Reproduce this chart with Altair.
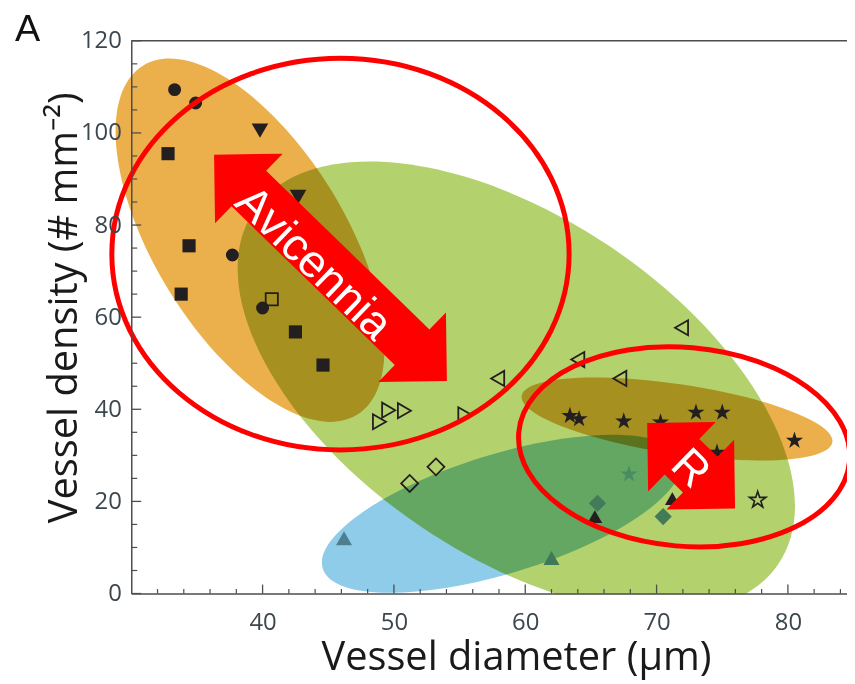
import altair as alt
import pandas as pd

# ---------------- data ----------------
CIRCLE_X = [33.3, 34.9, 37.7, 40.0]
CIRCLE_Y = [109.4, 106.5, 73.5, 62.0]
SQUARE_X = [32.8, 34.4, 33.8, 42.5, 44.6]
SQUARE_Y = [95.5, 75.5, 65.0, 56.8, 49.6]
OPEN_SQUARE_X = [40.7]
OPEN_SQUARE_Y = [63.9]
TRI_DOWN_X = [39.8, 42.7]
TRI_DOWN_Y = [100.5, 86.1]
TRI_LEFT_X = [71.9, 64.0, 67.2, 57.9]
TRI_LEFT_Y = [57.7, 50.8, 46.7, 46.7]
TRI_RIGHT_X = [48.9, 49.6, 50.8, 55.4]
TRI_RIGHT_Y = [37.3, 39.8, 39.7, 38.8]
OPEN_DIAMOND_X = [51.2, 53.2]
OPEN_DIAMOND_Y = [23.9, 27.5]
STAR_X = [63.4, 64.1, 67.5, 70.3, 73.0, 75.0, 80.5, 74.6]
STAR_Y = [38.6, 37.9, 37.4, 37.2, 39.3, 39.3, 33.2, 30.6]
OPEN_STAR_X = [77.7]
OPEN_STAR_Y = [20.3]
TRI_UP_X = [65.3, 71.2]
TRI_UP_Y = [16.7, 20.6]
GREEN_STAR_X = [67.9]
GREEN_STAR_Y = [25.9]
GREEN_DIAMOND_X = [65.5, 70.5]
GREEN_DIAMOND_Y = [19.6, 16.7]
GREEN_TRI_X = [62.0]
GREEN_TRI_Y = [7.7]
SLATE_TRI_X = [46.2]
SLATE_TRI_Y = [12.0]

# shaded group regions (centres in data units)
REGION_NAMES = ["Avicennia", "green group", "blue group", "R group"]
REGION_CX = [39.04, 59.32, 58.19, 71.56]
REGION_CY = [76.7, 44.8, 17.3, 37.9]
# red outline ellipses (centres in data units)
RING_CX = [45.93, 72.1]
RING_CY = [73.7, 31.85]
# arrows and their labels
ARROW_LABELS = ["Avicennia", "R"]
ARROW_CX = [45.17, 72.63]
ARROW_CY = [70.7, 27.75]
LABEL_CX = [43.87, 72.57]
LABEL_CY = [71.68, 27.1]

X_MAJOR = [40, 50, 60, 70, 80]
X_MINOR = [32, 34, 36, 38, 42, 44, 46, 48, 52, 54, 56, 58, 62, 64, 66, 68,
           72, 74, 76, 78, 82, 84]
Y_MAJOR = [0, 20, 40, 60, 80, 100, 120]
Y_MINOR = [5, 10, 15, 25, 30, 35, 45, 50, 55, 65, 70, 75, 85, 90, 95, 105,
           110, 115]

# ---------------- chart ----------------
W, H = 720, 556
xs = alt.Scale(domain=[30, 84.5], nice=False, zero=False)
ys = alt.Scale(domain=[0, 120], nice=False, zero=False)
AX = "#4d4d4d"
LBL = "#3c474d"
INK = "#231f20"
FONT = "Open Sans"

XAXIS = alt.Axis(values=X_MAJOR, ticks=False, grid=False, zindex=1,
                 domainColor=AX, domainWidth=1.5,
                 labelFont=FONT, labelFontSize=24,
                 labelColor=LBL, labelPadding=17,
                 title="Vessel diameter (µm)", titleFont=FONT,
                 titleFontSize=40, titleFontWeight="normal",
                 titleColor="#1a1a1a", titleX=387, titleY=76,
                 titleBaseline="alphabetic", titleAlign="center")
YAXIS = alt.Axis(values=Y_MAJOR, ticks=False, grid=False, zindex=1,
                 domainColor=AX, domainWidth=1.5,
                 labelFont=FONT, labelFontSize=24,
                 labelColor=LBL, labelPadding=10,
                 title="Vessel density (# mm⁻²)",
                 titleFont=FONT, titleFontSize=40,
                 titleFontWeight="normal", titleColor="#1a1a1a",
                 titleAngle=270, titleX=-55, titleY=268,
                 titleBaseline="alphabetic", titleAlign="center")


def X():
    return alt.X("x:Q", scale=xs, axis=XAXIS)


def Y():
    return alt.Y("y:Q", scale=ys, axis=YAXIS)


STAR = ("M 0 -1 L 0.2245 -0.309 L 0.9511 -0.309 L 0.3633 0.118 "
        "L 0.5878 0.809 L 0 0.382 L -0.5878 0.809 L -0.3633 0.118 "
        "L -0.9511 -0.309 L -0.2245 -0.309 Z")


def ellipse_path(ratio):
    k = 0.5523
    r = ratio
    return (f"M 1 0 C 1 {k*r:.4f} {k:.4f} {r:.4f} 0 {r:.4f} "
            f"C {-k:.4f} {r:.4f} -1 {k*r:.4f} -1 0 "
            f"C -1 {-k*r:.4f} {-k:.4f} {-r:.4f} 0 {-r:.4f} "
            f"C {k:.4f} {-r:.4f} 1 {-k*r:.4f} 1 0 Z")


def arrow_path(head, shaft):
    b = 1 - head
    return (f"M -1 0 L {-b:.4f} {-head:.4f} L {-b:.4f} {-shaft:.4f} "
            f"L {b:.4f} {-shaft:.4f} L {b:.4f} {-head:.4f} L 1 0 "
            f"L {b:.4f} {head:.4f} L {b:.4f} {shaft:.4f} "
            f"L {-b:.4f} {shaft:.4f} L {-b:.4f} {head:.4f} Z")


layers = []

# shaded regions (multiplied so that overlaps darken)
region_style = [  # semi-major px, semi-minor px, angle, colour
    (206, 96, 58.5, "#EBB04B"),
    (318, 170, 34, "#B3D16C"),
    (188, 60, 343, "#8FCCE9"),
    (158, 35, 8.5, "#EBB04B"),
]
for i, (a, b, ang, col) in enumerate(region_style):
    d = pd.DataFrame({"x": [REGION_CX[i]], "y": [REGION_CY[i]],
                      "name": [REGION_NAMES[i]]})
    layers.append(
        alt.Chart(d).mark_point(shape=ellipse_path(b / a), size=(2 * a) ** 2,
                                angle=ang, filled=True, fill=col, opacity=1,
                                strokeWidth=0, blend="multiply")
        .encode(x=X(), y=Y()))

# white band below the x axis: the shaded regions stop at the axis
dmask = pd.DataFrame({"m": [0]})
layers.append(
    alt.Chart(dmask).mark_rect(color="white", opacity=1).encode(
        x=alt.value(-2), x2=alt.value(W + 2),
        y=alt.value(H + 0.8), y2=alt.value(H + 70)))

# inward tick marks and top frame line
dxm = pd.DataFrame({"x": X_MAJOR})
layers.append(
    alt.Chart(dxm).mark_rule(color=AX, strokeWidth=1.3).encode(
        x=X(), y=alt.value(H), y2=alt.value(H - 9)))
dxn = pd.DataFrame({"x": X_MINOR})
layers.append(
    alt.Chart(dxn).mark_rule(color=AX, strokeWidth=1.2).encode(
        x=X(), y=alt.value(H), y2=alt.value(H - 4.5)))
dym = pd.DataFrame({"y": Y_MAJOR})
layers.append(
    alt.Chart(dym).mark_rule(color=AX, strokeWidth=1.3).encode(
        y=Y(), x=alt.value(0), x2=alt.value(10)))
dyn = pd.DataFrame({"y": Y_MINOR})
layers.append(
    alt.Chart(dyn).mark_rule(color=AX, strokeWidth=1.2).encode(
        y=Y(), x=alt.value(0), x2=alt.value(6)))
dtop = pd.DataFrame({"y": [120]})
layers.append(
    alt.Chart(dtop).mark_rule(color=AX, strokeWidth=1.5).encode(
        y=Y(), x=alt.value(0), x2=alt.value(W)))

# data points
groups = [  # xs, ys, shape, filled, colour, size, strokeWidth
    (CIRCLE_X, CIRCLE_Y, "circle", True, INK, 170, 0),
    (SQUARE_X, SQUARE_Y, "square", True, INK, 175, 0),
    (OPEN_SQUARE_X, OPEN_SQUARE_Y, "square", False, INK, 150, 1.8),
    (TRI_DOWN_X, TRI_DOWN_Y, "triangle-down", True, INK, 280, 0),
    (TRI_LEFT_X, TRI_LEFT_Y, "triangle-left", False, INK, 230, 1.8),
    (TRI_RIGHT_X, TRI_RIGHT_Y, "triangle-right", False, INK, 230, 1.8),
    (OPEN_DIAMOND_X, OPEN_DIAMOND_Y, "diamond", False, INK, 290, 1.8),
    (STAR_X, STAR_Y, STAR, True, INK, 330, 0),
    (OPEN_STAR_X, OPEN_STAR_Y, STAR, False, INK, 300, 1.6),
    (TRI_UP_X, TRI_UP_Y, "triangle-up", True, INK, 220, 0),
    (GREEN_STAR_X, GREEN_STAR_Y, STAR, True, "#4a8c62", 330, 0),
    (GREEN_DIAMOND_X, GREEN_DIAMOND_Y, "diamond", True, "#437a58", 300, 0),
    (GREEN_TRI_X, GREEN_TRI_Y, "triangle-up", True, "#3f7a58", 260, 0),
    (SLATE_TRI_X, SLATE_TRI_Y, "triangle-up", True, "#4e7f8e", 260, 0),
]
for gx, gy, shp, filled, col, sz, sw in groups:
    d = pd.DataFrame({"x": gx, "y": gy})
    if filled:
        mk = alt.Chart(d).mark_point(shape=shp, filled=True, color=col,
                                     size=sz, opacity=1, strokeWidth=0)
    else:
        mk = alt.Chart(d).mark_point(shape=shp, filled=False, color=col,
                                     size=sz, opacity=1, strokeWidth=sw)
    layers.append(mk.encode(x=X(), y=Y()))

# red outline ellipses
ring_style = [(230, 197, 0), (167, 100, 5)]
for i, (a, b, ang) in enumerate(ring_style):
    d = pd.DataFrame({"x": [RING_CX[i]], "y": [RING_CY[i]]})
    layers.append(
        alt.Chart(d).mark_point(shape=ellipse_path(b / a), size=(2 * a) ** 2,
                                angle=ang, filled=False, color="#ff0000",
                                opacity=1, strokeWidth=5)
        .encode(x=X(), y=Y()))

# double arrows
arrow_style = [(163.35, 48.8, 25, 44.2), (61.65, 48.8, 25, 44.2)]
for i, (half, head, shaft, ang) in enumerate(arrow_style):
    d = pd.DataFrame({"x": [ARROW_CX[i]], "y": [ARROW_CY[i]]})
    layers.append(
        alt.Chart(d).mark_point(shape=arrow_path(head / half, shaft / half),
                                size=(2 * half) ** 2, angle=ang, filled=True,
                                fill="#ff0000", opacity=1, strokeWidth=0)
        .encode(x=X(), y=Y()))

# arrow labels
for i, lab in enumerate(ARROW_LABELS):
    d = pd.DataFrame({"x": [LABEL_CX[i]], "y": [LABEL_CY[i]], "t": [lab]})
    layers.append(
        alt.Chart(d).mark_text(font="Liberation Sans", fontSize=46,
                               color="white", angle=44.2, align="center",
                               baseline="middle")
        .encode(text="t:N", x=X(), y=Y()))

# panel letter
dA = pd.DataFrame({"t": ["A"]})
layers.append(
    alt.Chart(dA).mark_text(font="Liberation Sans", fontSize=38, color="#111",
                            align="left", baseline="alphabetic")
    .encode(text="t:N", x=alt.value(-117), y=alt.value(0)))

chart = (
    alt.layer(*layers)
    .properties(width=W, height=H,
                autosize=alt.AutoSizeParams(type="none"),
                padding={"left": 124, "top": 31, "right": 0, "bottom": 89},
                background="white")
    .configure_view(strokeWidth=0)
)

chart.save("out.html", embed_options={"renderer": "svg", "actions": False})
